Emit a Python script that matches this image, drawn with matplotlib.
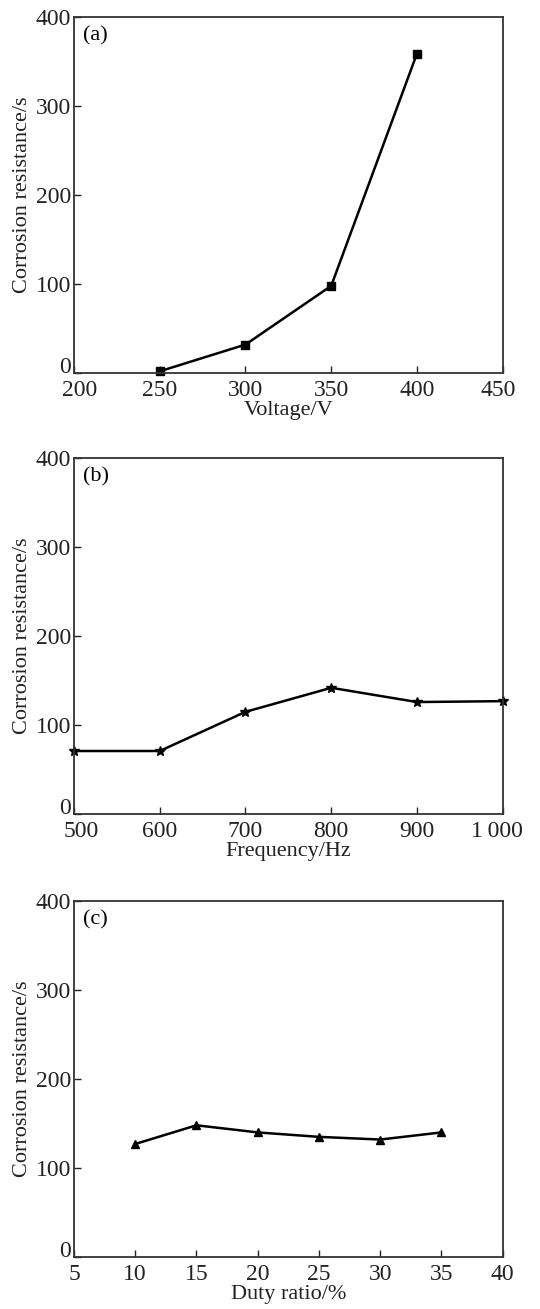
import matplotlib
import matplotlib.pyplot as plt
from matplotlib.transforms import ScaledTranslation

matplotlib.use("Agg")
plt.rcParams['font.family'] = ['Liberation Serif', 'DejaVu Serif']

voltage = [250, 300, 350, 400]
res_voltage = [2, 32, 98, 359]

freq = [500, 600, 700, 800, 900, 1000]
res_freq = [71, 71, 115, 142, 126, 127]

duty = [10, 15, 20, 25, 30, 35]
res_duty = [127, 148, 140, 135, 132, 140]

# shift (px) of first/last x tick label, as in the original figure
panels = [
    (voltage, res_voltage, 's', 6, "Voltage/V", (200, 450), [200, 250, 300, 350, 400, 450],
     ["200", "250", "300", "350", "400", "450"], "(a)", 0.715, (6, -5)),
    (freq, res_freq, '*', 7, "Frequency/Hz", (500, 1000), [500, 600, 700, 800, 900, 1000],
     ["500", "600", "700", "800", "900", "1\u2009000"], "(b)", 0.378, (7, -6)),
    (duty, res_duty, '^', 6, "Duty ratio/%", (5, 40), [5, 10, 15, 20, 25, 30, 35, 40],
     ["5", "10", "15", "20", "25", "30", "35", "40"], "(c)", 0.0397, (0, 0)),
]

fig = plt.figure(figsize=(5.4, 13.09), dpi=100)

for x, y, mk, ms, xlabel, xlim, xticks, xticklabels, tag, bottom, shift in panels:
    ax = fig.add_axes([0.137, bottom, 0.794, 0.272])
    ax.plot(x, y, color='black', lw=1.8, marker=mk, ms=ms, clip_on=False)
    ax.set_xlim(*xlim)
    ax.set_ylim(0, 400)
    ax.set_xticks(xticks)
    ax.set_xticklabels(xticklabels)
    ax.set_yticks([0, 100, 200, 300, 400])
    ax.tick_params(direction='in', length=5, width=1, labelsize=17, colors='#222222')
    ax.tick_params(axis='x', pad=5)
    ax.tick_params(axis='y', pad=2)
    ax.get_yticklabels()[0].set_verticalalignment('baseline')
    xl = ax.get_xticklabels()
    for lab, dx in ((xl[0], shift[0]), (xl[-1], shift[1])):
        lab.set_transform(lab.get_transform() + ScaledTranslation(dx / 100, 0, fig.dpi_scale_trans))
    ax.set_xlabel(xlabel, fontsize=16, labelpad=0, color='#222222')
    ax.set_ylabel("Corrosion resistance/s", fontsize=16, labelpad=3, color='#222222')
    for s in ax.spines.values():
        s.set_linewidth(1.3)
        s.set_color('#333333')
    ax.text(0.022, 0.975, tag, transform=ax.transAxes, fontsize=16, va='top', ha='left')

fig.savefig("out.png", dpi=100)
